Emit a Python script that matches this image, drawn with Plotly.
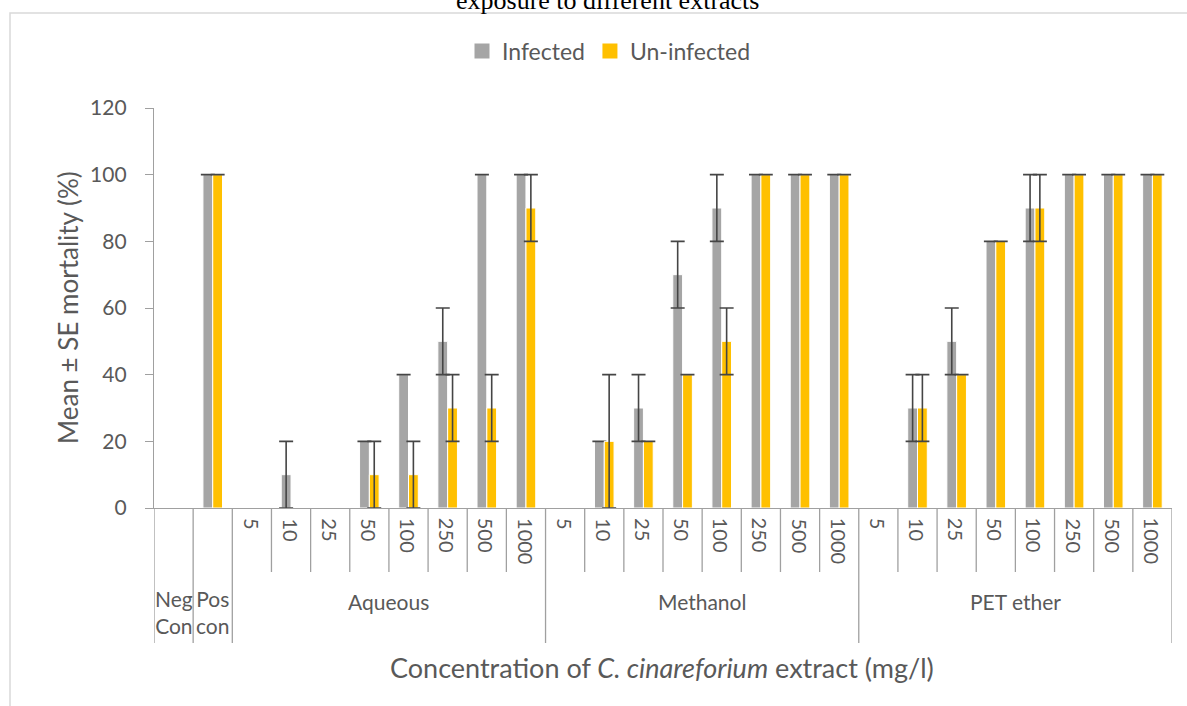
import plotly.graph_objects as go

# ---- data ----
groups = ["Neg<br>Con", "Pos<br>con", "Aqueous", "Methanol", "PET ether"]
concentrations = ["5", "10", "25", "50", "100", "250", "500", "1000"]

# category list: (group, concentration label)
categories = [("Neg<br>Con", ""), ("Pos<br>con", "")]
for g in ["Aqueous", "Methanol", "PET ether"]:
    for c in concentrations:
        categories.append((g, c))

infected = [0, 100,
            0, 10, 0, 20, 40, 50, 100, 100,
            0, 20, 30, 70, 90, 100, 100, 100,
            0, 30, 50, 80, 90, 100, 100, 100]
infected_se = [0, 0,
               0, 10, 0, 0, 0, 10, 0, 0,
               0, 0, 10, 10, 10, 0, 0, 0,
               0, 10, 10, 0, 10, 0, 0, 0]
uninfected = [0, 100,
              0, 0, 0, 10, 10, 30, 30, 90,
              0, 20, 20, 40, 50, 100, 100, 100,
              0, 30, 40, 80, 90, 100, 100, 100]
uninfected_se = [0, 0,
                 0, 0, 0, 10, 10, 10, 10, 10,
                 0, 20, 0, 0, 10, 0, 0, 0,
                 0, 10, 0, 0, 10, 0, 0, 0]

series_names = ["Infected", "Un-infected"]
colors = ["#A5A5A5", "#FFC000"]

# ---- layout constants ----
W, H = 1187, 706
ML, MR, MT, MB = 154, 15, 108, 198
PW = W - ML - MR
PH = H - MT - MB
FONT = "Lato"
TXT = "#595959"
AXC = "#A0A0A0"

def py(px):  # pixel y -> paper y
    return 1 - (px - MT) / PH

def pxx(px):  # pixel x -> paper x
    return (px - ML) / PW

n = len(categories)
xs = list(range(n))

fig = go.Figure()
for name, col, vals, ses in [(series_names[0], colors[0], infected, infected_se),
                             (series_names[1], colors[1], uninfected, uninfected_se)]:
    # zero-height bars are not drawn (and carry no error bar)
    shown = [v if v != 0 else None for v in vals]
    fig.add_trace(go.Bar(
        x=xs, y=shown, name=name, showlegend=False,
        marker=dict(color=col, line=dict(color="white", width=1)),
        error_y=dict(type="data", array=ses, visible=True,
                     color="#454545", thickness=1.6, width=7),
    ))
    # legend entry with a larger square swatch
    fig.add_trace(go.Scatter(
        x=[None], y=[None], mode="markers", name=name,
        marker=dict(symbol="square", size=15, color=col),
    ))

shapes = []
annotations = []

# dividers below axis
group_of = [g for g, c in categories]
for k in range(n + 1):
    xb = k - 0.5
    left = group_of[k - 1] if k > 0 else None
    right = group_of[k] if k < n else None
    full = (left != right) or categories[min(k, n - 1)][1] == ""
    y1 = py(643) if full else py(572)
    shapes.append(dict(type="line", xref="x", yref="paper", x0=xb, x1=xb,
                       y0=0, y1=y1, line=dict(color=AXC, width=1.3)))

# inner (concentration) labels
for i, (g, c) in enumerate(categories):
    if c:
        annotations.append(dict(x=i, y=py(516), xref="x", yref="paper",
                                text=c, textangle=90, showarrow=False,
                                xanchor="center", yanchor="top",
                                font=dict(family=FONT, size=20, color=TXT)))

# group labels
for g in groups:
    idx = [i for i, (gg, c) in enumerate(categories) if gg == g]
    xc = (idx[0] + idx[-1]) / 2
    multi = "<br>" in g
    annotations.append(dict(x=xc, y=py(612 if multi else 601), xref="x", yref="paper",
                            text=g, showarrow=False, xanchor="center", yanchor="middle",
                            font=dict(family=FONT, size=21, color=TXT)))

# axis titles
annotations.append(dict(x=pxx(662), y=py(667), xref="paper", yref="paper",
                        text="Concentration of <i>C. cinareforium</i> extract (mg/l)",
                        showarrow=False, xanchor="center", yanchor="middle",
                        font=dict(family=FONT, size=27, color=TXT)))
annotations.append(dict(x=pxx(68), y=py(308), xref="paper", yref="paper",
                        text="Mean ± SE mortality (%)", textangle=-90,
                        showarrow=False, xanchor="center", yanchor="middle",
                        font=dict(family=FONT, size=26, color=TXT)))
# clipped document caption at top
annotations.append(dict(x=pxx(607), y=py(1), xref="paper", yref="paper",
                        text="exposure to different extracts", showarrow=False,
                        xanchor="center", yanchor="middle",
                        font=dict(family="Liberation Serif", size=26, color="black")))

# chart border
shapes.append(dict(type="rect", xref="paper", yref="paper",
                   x0=pxx(10), x1=pxx(1200), y0=py(720), y1=py(13),
                   line=dict(color="#D9D9D9", width=1.5), layer="below"))

fig.update_layout(
    width=W, height=H,
    margin=dict(l=ML, r=MR, t=MT, b=MB),
    paper_bgcolor="white", plot_bgcolor="white",
    barmode="group", bargap=0.5, bargroupgap=0,
    font=dict(family=FONT, color=TXT),
    showlegend=True,
    legend=dict(orientation="h", x=pxx(609), y=py(51), xanchor="center", yanchor="middle",
                font=dict(family=FONT, size=23, color=TXT), itemwidth=30,
                bgcolor="rgba(0,0,0,0)"),
    xaxis=dict(range=[-0.5, n - 0.5], showticklabels=False, ticks="",
               showgrid=False, zeroline=False, showline=True, linecolor=AXC,
               linewidth=1.3, fixedrange=True),
    yaxis=dict(range=[0, 120], dtick=20, ticks="outside", ticklen=8, tickcolor=AXC,
               tickwidth=1.3, showgrid=False, zeroline=False, showline=True,
               linecolor=AXC, linewidth=1.3, ticklabelstandoff=14,
               tickfont=dict(family=FONT, size=21, color=TXT)),
    shapes=shapes, annotations=annotations,
)

fig.write_html("out.html")
